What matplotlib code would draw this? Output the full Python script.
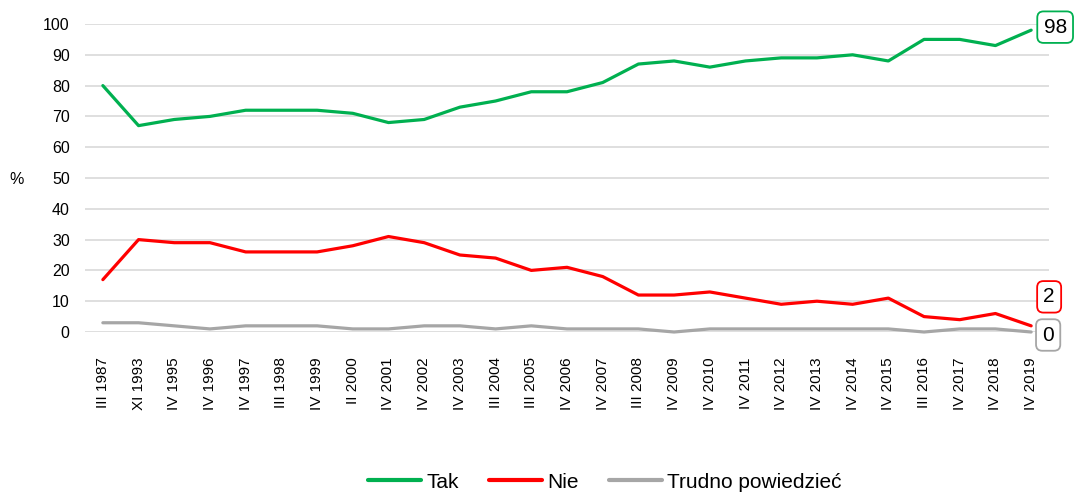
import matplotlib
matplotlib.use("Agg")
import matplotlib.pyplot as plt

plt.rcParams['font.family'] = ['Liberation Sans', 'DejaVu Sans']

categories = ["III 1987", "XI 1993", "IV 1995", "IV 1996", "IV 1997", "III 1998", "IV 1999",
              "II 2000", "IV 2001", "IV 2002", "IV 2003", "III 2004", "III 2005", "IV 2006",
              "IV 2007", "III 2008", "IV 2009", "IV 2010", "IV 2011", "IV 2012", "IV 2013",
              "IV 2014", "IV 2015", "III 2016", "IV 2017", "IV 2018", "IV 2019"]
tak = [80, 67, 69, 70, 72, 72, 72, 71, 68, 69, 73, 75, 78, 78, 81, 87, 88, 86, 88, 89, 89,
       90, 88, 95, 95, 93, 98]
nie = [17, 30, 29, 29, 26, 26, 26, 28, 31, 29, 25, 24, 20, 21, 18, 12, 12, 13, 11, 9, 10,
       9, 11, 5, 4, 6, 2]
trudno = [3, 3, 2, 1, 2, 2, 2, 1, 1, 2, 2, 1, 2, 1, 1, 1, 0, 1, 1, 1, 1, 1, 1, 0, 1, 1, 0]
series_names = ["Tak", "Nie", "Trudno powiedzieć"]
yticks = list(range(0, 101, 10))

colors = ["#00B050", "#FF0000", "#A6A6A6"]

fig = plt.figure(figsize=(10.74, 4.94), dpi=100)
W, H = 1074, 494
ax = fig.add_axes([85 / W, 1 - 332 / H, (1049 - 85) / W, (332 - 24) / H])

x = list(range(len(categories)))
for vals, name, c in zip([tak, nie, trudno], series_names, colors):
    ax.plot(x, vals, color=c, lw=2.3, label=name, solid_capstyle='round', zorder=3, clip_on=False)

ax.set_xlim(-0.5, len(categories) - 0.5)
ax.set_ylim(0, 100)
ax.set_yticks(yticks)
ax.set_yticklabels([str(v) for v in yticks], fontsize=11.5)
ax.set_xticks(x)
ax.set_xticklabels(categories, rotation=90, fontsize=11, va='top', ha='center')
ax.tick_params(axis='both', length=0, colors='#000000')
ax.tick_params(axis='y', pad=11)
ax.tick_params(axis='x', pad=18)
ax.grid(axis='y', color='#D9D9D9', lw=1.2, zorder=0)
ax.set_axisbelow(True)
for s in ax.spines.values():
    s.set_visible(False)

fig.text(17 / W, 1 - 180 / H, "%", fontsize=11.5, ha='center', va='center')

# end labels
last = len(categories) - 1
for vals, c, off in zip([tak, nie, trudno], colors, [(24, 3), (18, 29), (17, -3)]):
    ax.annotate(str(vals[-1]), xy=(last, vals[-1]), xytext=off, textcoords='offset pixels',
                fontsize=15, ha='center', va='center', annotation_clip=False, zorder=5,
                bbox=dict(boxstyle='round,pad=0.3,rounding_size=0.3', fc='white', ec=c, lw=1.3))

leg = fig.legend(loc='center', bbox_to_anchor=(605 / W, 1 - 482 / H), ncol=3, frameon=False,
                 fontsize=15, handlelength=2.55, handletextpad=0.25, columnspacing=1.45)
for l in leg.get_lines():
    l.set_linewidth(3)

fig.savefig("out.png", dpi=100)
